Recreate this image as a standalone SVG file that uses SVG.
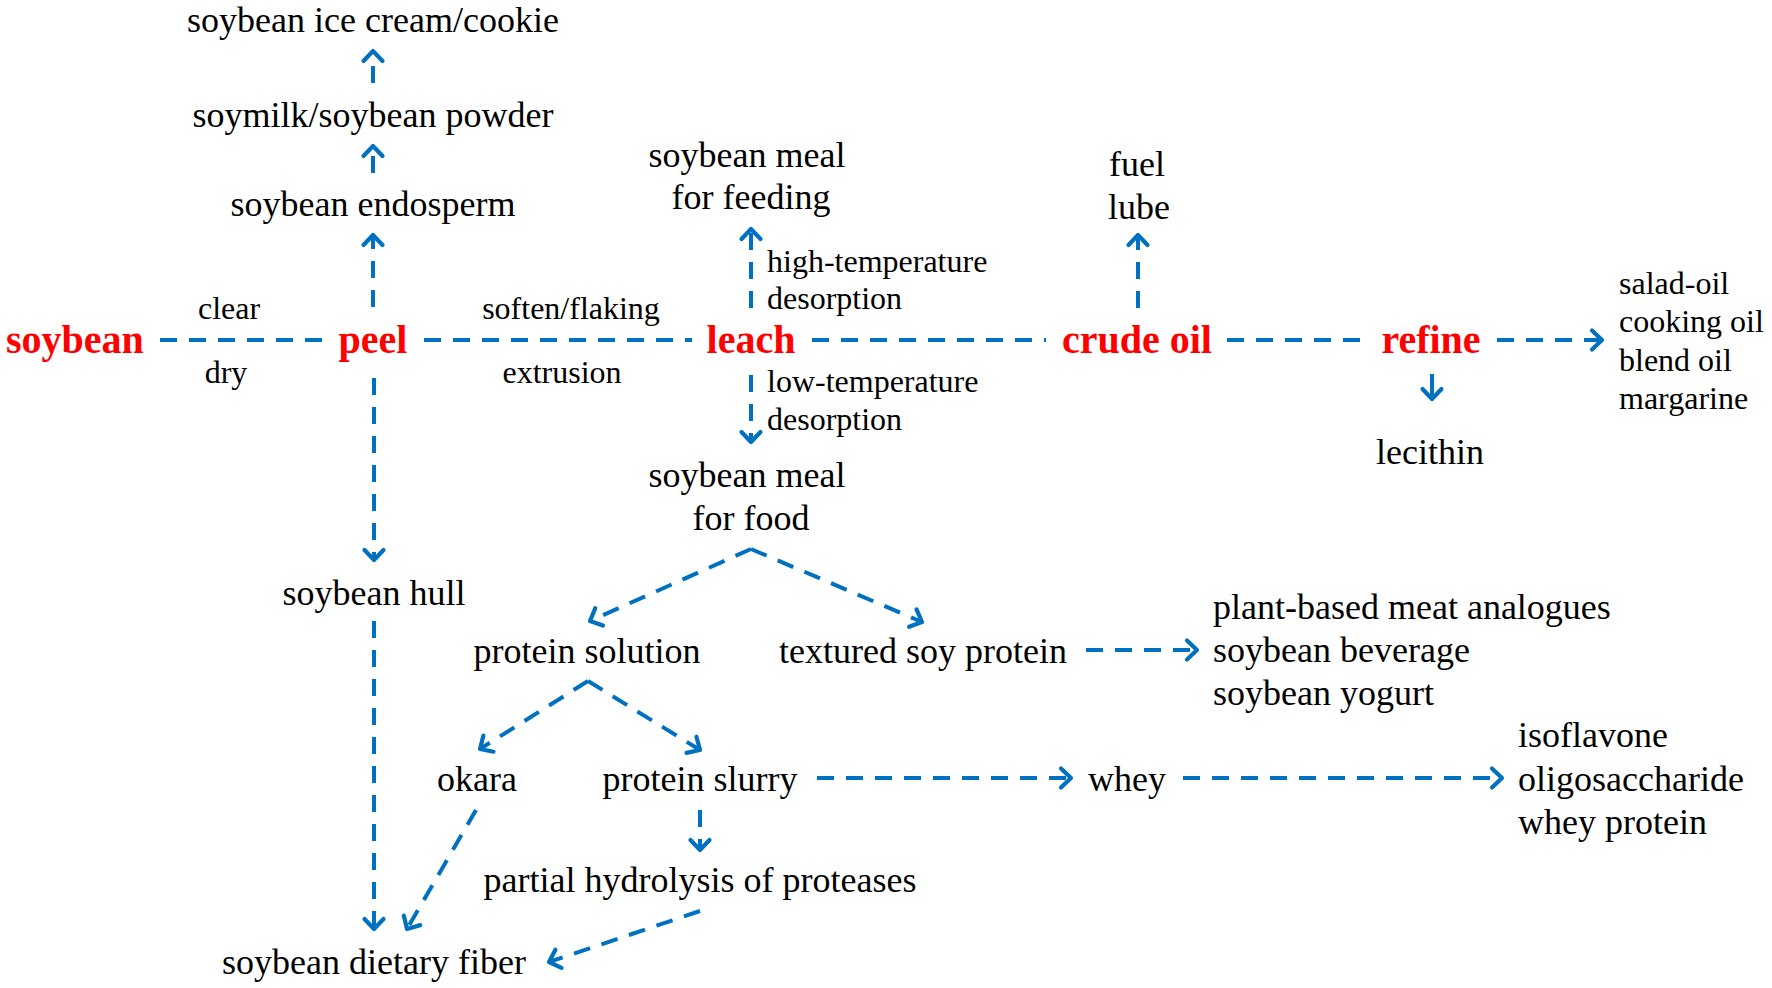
<svg xmlns="http://www.w3.org/2000/svg" width="1772" height="988" viewBox="0 0 1772 988">
<style>
text{font-family:"Liberation Serif","Times New Roman",serif;fill:#000}
.main{font-size:40px;font-weight:bold;fill:#FF0000}
.n{font-size:36px}
.s{font-size:32px}
.c{text-anchor:middle}
.d{stroke:#0070C0;stroke-width:4;fill:none;stroke-dasharray:17 12}
.sol{stroke:#0070C0;stroke-width:4;fill:none}
</style>
<defs>
<marker id="ah" viewBox="-15 -13 19 26" refX="0" refY="0" markerWidth="19" markerHeight="26" orient="auto" markerUnits="userSpaceOnUse">
<path d="M-10,-9.5 L0,0 L-10,9.5" fill="none" stroke="#0070C0" stroke-width="4.2" stroke-linecap="round" stroke-linejoin="round"/>
</marker>
</defs>
<rect width="1772" height="988" fill="#fff"/>

<g id="connectors">
<line class="d" x1="160" y1="340" x2="322" y2="340"/>
<line class="d" x1="424" y1="340" x2="692" y2="340"/>
<line class="d" x1="812" y1="340" x2="1046" y2="340"/>
<line class="d" x1="1227" y1="340" x2="1362" y2="340"/>
<line class="d" x1="1497" y1="340" x2="1602" y2="340" marker-end="url(#ah)"/>
<line class="d" x1="373" y1="307" x2="373" y2="235" marker-end="url(#ah)"/>
<line class="d" x1="373" y1="173" x2="373" y2="146" stroke-dasharray="18 6" marker-end="url(#ah)"/>
<line class="d" x1="373" y1="83" x2="373" y2="51" stroke-dasharray="18 8" marker-end="url(#ah)"/>
<line class="d" x1="751" y1="308" x2="751" y2="229" marker-end="url(#ah)"/>
<line class="d" x1="751" y1="375" x2="751" y2="442" marker-end="url(#ah)"/>
<line class="d" x1="1138" y1="308" x2="1138" y2="235" marker-end="url(#ah)"/>
<line class="sol" x1="1432" y1="374" x2="1432" y2="399" marker-end="url(#ah)"/>
<line class="d" x1="374" y1="378" x2="374" y2="560" marker-end="url(#ah)"/>
<line class="d" x1="374" y1="621" x2="374" y2="929" marker-end="url(#ah)"/>
<line class="d" x1="751" y1="549" x2="590" y2="621" marker-end="url(#ah)"/>
<line class="d" x1="751" y1="549" x2="922" y2="622" marker-end="url(#ah)"/>
<line class="d" x1="1086" y1="650" x2="1197" y2="650" stroke-dasharray="15 10" marker-end="url(#ah)"/>
<line class="d" x1="588" y1="681" x2="480" y2="749" marker-end="url(#ah)"/>
<line class="d" x1="588" y1="681" x2="700" y2="750" marker-end="url(#ah)"/>
<line class="d" x1="817" y1="778" x2="1071" y2="778" marker-end="url(#ah)"/>
<line class="d" x1="1183" y1="778" x2="1502" y2="778" marker-end="url(#ah)"/>
<line class="d" x1="700" y1="810" x2="700" y2="850" marker-end="url(#ah)"/>
<line class="d" x1="476" y1="810" x2="407" y2="929" marker-end="url(#ah)"/>
<line class="d" x1="700" y1="911" x2="549" y2="962" marker-end="url(#ah)"/>
</g>

<g id="n-soybean"><text class="main" x="6" y="353">soybean</text></g>
<g id="n-peel"><text class="main c" x="373" y="353">peel</text></g>
<g id="n-leach"><text class="main c" x="751" y="353">leach</text></g>
<g id="n-crudeoil"><text class="main c" x="1137" y="353">crude oil</text></g>
<g id="n-refine"><text class="main c" x="1431" y="353">refine</text></g>

<g id="l-clear"><text class="s c" x="229" y="319">clear</text></g>
<g id="l-dry"><text class="s c" x="226" y="383">dry</text></g>
<g id="l-soften"><text class="s c" x="571" y="319">soften/flaking</text></g>
<g id="l-extrusion"><text class="s c" x="562" y="383">extrusion</text></g>
<g id="l-hightemp"><text class="s" x="767" y="272">high-temperature</text><text class="s" x="767" y="309">desorption</text></g>
<g id="l-lowtemp"><text class="s" x="767" y="392">low-temperature</text><text class="s" x="767" y="430">desorption</text></g>

<g id="n-icecream"><text class="n c" x="373" y="32">soybean ice cream/cookie</text></g>
<g id="n-soymilk"><text class="n c" x="373" y="127">soymilk/soybean powder</text></g>
<g id="n-endosperm"><text class="n c" x="373" y="216">soybean endosperm</text></g>
<g id="n-mealfeeding"><text class="n c" x="747" y="167">soybean meal</text><text class="n c" x="751" y="209">for feeding</text></g>
<g id="n-fuel"><text class="n c" x="1137" y="176">fuel</text><text class="n c" x="1139" y="219">lube</text></g>
<g id="n-oils"><text class="s" x="1619" y="294">salad-oil</text><text class="s" x="1619" y="332">cooking oil</text><text class="s" x="1619" y="371">blend oil</text><text class="s" x="1619" y="409">margarine</text></g>
<g id="n-lecithin"><text class="n c" x="1430" y="464">lecithin</text></g>
<g id="n-mealfood"><text class="n c" x="747" y="487">soybean meal</text><text class="n c" x="751" y="530">for food</text></g>
<g id="n-hull"><text class="n c" x="374" y="605">soybean hull</text></g>
<g id="n-proteinsolution"><text class="n c" x="587" y="663">protein solution</text></g>
<g id="n-textured"><text class="n c" x="923" y="663">textured soy protein</text></g>
<g id="n-plantbased"><text class="n" x="1213" y="619">plant-based meat analogues</text><text class="n" x="1213" y="662">soybean beverage</text><text class="n" x="1213" y="705">soybean yogurt</text></g>
<g id="n-okara"><text class="n c" x="477" y="791">okara</text></g>
<g id="n-slurry"><text class="n c" x="700" y="791">protein slurry</text></g>
<g id="n-whey"><text class="n c" x="1127" y="791">whey</text></g>
<g id="n-iso"><text class="n" x="1518" y="747">isoflavone</text><text class="n" x="1518" y="791">oligosaccharide</text><text class="n" x="1518" y="834">whey protein</text></g>
<g id="n-partial"><text class="n c" x="700" y="892">partial hydrolysis of proteases</text></g>
<g id="n-fiber"><text class="n c" x="374" y="974">soybean dietary fiber</text></g>
</svg>
